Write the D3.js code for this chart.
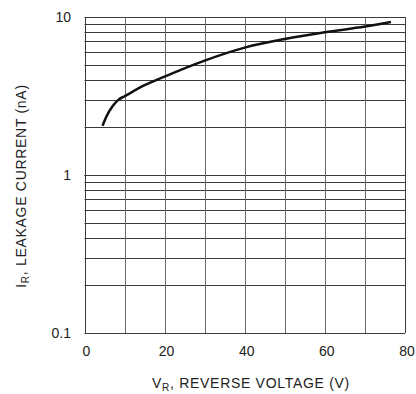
<!DOCTYPE html>
<html>
<head>
<meta charset="utf-8">
<script src="https://cdn.jsdelivr.net/npm/d3@7"></script>
<style>
  body { margin: 0; background: #fff; }
  text { font-family: "Liberation Sans", Arial, sans-serif; fill: #222; }
</style>
</head>
<body>
<svg id="chart" width="416" height="394"></svg>
<script>
// reverse voltage (V) vs leakage current (nA)
const voltage = [4.5, 5.5, 7, 8.5, 10, 15, 20, 30, 40, 50, 60, 70, 76.5];
const current = [2.05, 2.35, 2.72, 3.0, 3.15, 3.7, 4.2, 5.3, 6.4, 7.25, 8.0, 8.7, 9.3];

const xTicks = [0, 20, 40, 60, 80];
const xGrid = [0, 10, 20, 30, 40, 50, 60, 70, 80];
const yTicks = [0.1, 1, 10];
const yTickLabels = ["0.1", "1", "10"];

const svg = d3.select("#chart");

const x = d3.scaleLinear().domain([0, 80]).range([84.5, 405]);
const y = d3.scaleLog().domain([0.1, 10]).range([333, 17]);

// horizontal grid lines, every 1..9 of each decade
const yGrid = [];
[0.1, 1].forEach(function (d) {
    for (let k = 1; k <= 10; k++) yGrid.push(d * k);
});

const grid = svg.append("g");

grid.selectAll(".hline")
    .data(yGrid)
    .enter().append("line")
    .attr("class", "hline")
    .attr("x1", x(0))
    .attr("x2", x(80))
    .attr("y1", d => Math.round(y(d)) + 0.5)
    .attr("y2", d => Math.round(y(d)) + 0.5)
    .style("stroke", "#3a3a3a")
    .style("stroke-width", 1);

grid.selectAll(".vline")
    .data(xGrid)
    .enter().append("line")
    .attr("class", "vline")
    .attr("x1", d => Math.round(x(d)) + 0.5)
    .attr("x2", d => Math.round(x(d)) + 0.5)
    .attr("y1", y(10))
    .attr("y2", y(0.1))
    .style("stroke", d => (d === 0 || d === 80) ? "#3a3a3a" : "#6a6a6a")
    .style("stroke-width", 1);

// curve
const line = d3.line()
    .x((d, i) => x(voltage[i]))
    .y(d => y(d))
    .curve(d3.curveMonotoneX);

svg.append("path")
    .datum(current)
    .attr("d", line)
    .style("fill", "none")
    .style("stroke", "#111")
    .style("stroke-width", 2.5);

// x tick labels
svg.selectAll(".xlabel")
    .data(xTicks)
    .enter().append("text")
    .attr("class", "xlabel")
    .attr("x", d => x(d) + 2)
    .attr("y", 356)
    .attr("text-anchor", "middle")
    .style("font-size", "14px")
    .text(d => d);

// y tick labels
svg.selectAll(".ylabel")
    .data(yTicks)
    .enter().append("text")
    .attr("class", "ylabel")
    .attr("x", 71)
    .attr("y", d => y(d) + 5)
    .attr("text-anchor", "end")
    .style("font-size", "14px")
    .text((d, i) => yTickLabels[i]);

// x axis title
const xt = svg.append("text")
    .attr("x", 251)
    .attr("y", 388)
    .attr("text-anchor", "middle")
    .style("font-size", "14px")
    .style("letter-spacing", "0.7px");
xt.append("tspan").text("V");
xt.append("tspan").attr("dy", 3).style("font-size", "10px").text("R");
xt.append("tspan").attr("dy", -3).text(", REVERSE VOLTAGE (V)");

// y axis title
const yt = svg.append("text")
    .attr("transform", "translate(26, 186) rotate(-90)")
    .attr("text-anchor", "middle")
    .style("font-size", "14px")
    .style("letter-spacing", "0.7px");
yt.append("tspan").text("I");
yt.append("tspan").attr("dy", 3).style("font-size", "10px").text("R");
yt.append("tspan").attr("dy", -3).text(", LEAKAGE CURRENT (nA)");
</script>
</body>
</html>
